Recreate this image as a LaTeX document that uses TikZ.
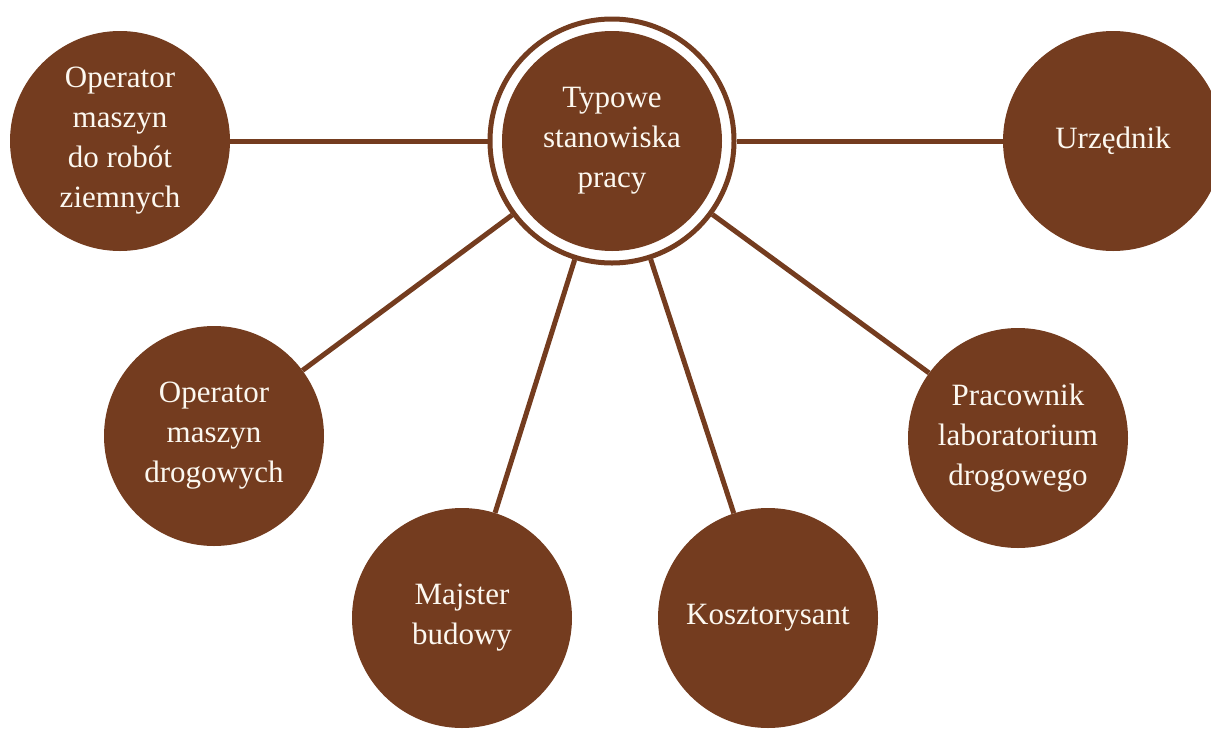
\documentclass[tikz,border=0pt]{standalone}
\usepackage{fontspec}
\setmainfont{Liberation Serif}
\usepackage{tikz}
\usetikzlibrary{positioning,calc}

\definecolor{braz}{RGB}{116,60,31}
\definecolor{krem}{RGB}{252,248,240}

\tikzset{
	stan/.style={circle, fill=braz, text=krem, minimum size=220pt, inner sep=0pt, align=center,
		font=\fontsize{31}{40}\selectfont},
	obrecz/.style={circle, draw=braz, line width=5pt, minimum size=244pt, inner sep=0pt},
	lacz/.style={draw=braz, line width=5pt}
}

\begin{document}
\begin{tikzpicture}[x=1pt, y=-1pt]
		\useasboundingbox (0, 0) rectangle (1211, 729);

		\node[stan] (T) at (612, 141) {Typowe\\stanowiska\\pracy};
		\node[obrecz] (R) at (612, 141) {};

		\node[stan] (S1) at (120, 141) {Operator\\maszyn\\do robót\\ziemnych};
		\node[stan] (S2) at (214, 436) {Operator\\maszyn\\drogowych};
		\node[stan] (S3) at (462, 618) {Majster\\budowy};
		\node[stan] (S4) at (768, 618) {Kosztorysant};
		\node[stan] (S5) at (1018, 438) {Pracownik\\laboratorium\\drogowego};
		\node[stan] (S6) at (1113, 141) {Urzędnik};

		\draw[lacz] (R) -- (S1);
		\draw[lacz] (R) -- (S2);
		\draw[lacz] (R) -- (S3);
		\draw[lacz] (R) -- (S4);
		\draw[lacz] (R) -- (S5);
		\draw[lacz] (R) -- (S6);
	\end{tikzpicture}
\end{document}
